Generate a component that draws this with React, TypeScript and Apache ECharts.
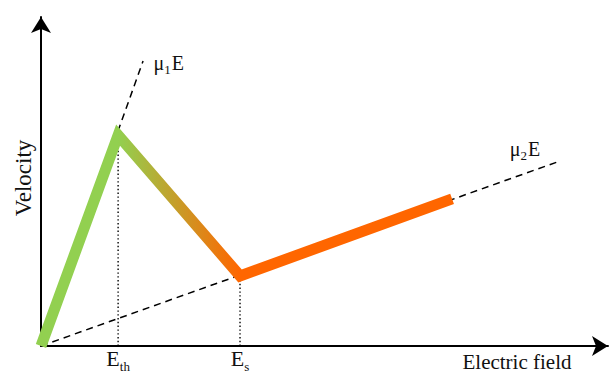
import React, { useEffect, useRef } from "react";
import * as echarts from "echarts";

// Data (axis units: 0..100 on both axes)
const fieldE = [0, 13.6, 35.1, 72.5];
const velocity = [0, 64.1, 21.3, 44.7];
const eThIndex = 1;
const eSIndex = 2;
const mu1LineE = [0, 18.0];
const mu1LineV = [0, 86.6];
const mu2LineE = [0, 91.0];
const mu2LineV = [0, 55.9];
const xName = "Electric field";
const yName = "Velocity";

const GREEN = "#92D050";
const ORANGE = "#FF6600";
const FONT = "Liberation Serif";

const richMu = {
  b: { fontFamily: FONT, fontSize: 20, color: "#111", verticalAlign: "bottom", lineHeight: 20 },
  s: { fontFamily: FONT, fontSize: 13, color: "#111", verticalAlign: "bottom", lineHeight: 13, padding: [0, 1, -3, 0] },
};
const richE = {
  b: { fontFamily: FONT, fontSize: 22, color: "#111", verticalAlign: "bottom", lineHeight: 20 },
  s: { fontFamily: FONT, fontSize: 13, color: "#111", verticalAlign: "bottom", lineHeight: 12, padding: [0, 0, -3, 0] },
};

export default function App() {
  const ref = useRef<HTMLDivElement>(null);
  useEffect(() => {
    if (!ref.current) return;
    const chart = echarts.init(ref.current, undefined, { renderer: "svg" });
    const eEnd = fieldE[fieldE.length - 1];
    const stop1 = fieldE[eThIndex] / eEnd;
    const stop2 = fieldE[eSIndex] / eEnd;
    const dotted = (e: number, v: number, label: string) => ({
      type: "line",
      data: [
        {
          value: [e, 0],
          label: { show: true, position: "bottom", distance: 3, formatter: label, rich: richE },
        },
        [e, v],
      ],
      symbol: "circle",
      symbolSize: 1,
      showSymbol: true,
      itemStyle: { color: "rgba(0,0,0,0)" },
      lineStyle: { color: "#000", width: 1.4, type: [1.4, 2.4] },
      silent: true,
    });
    const dashed = (xs: number[], ys: number[], label: string, labelOpts: any) => ({
      type: "line",
      data: [
        [xs[0], ys[0]],
        { value: [xs[1], ys[1]], label: { show: true, formatter: label, rich: richMu, ...labelOpts } },
      ],
      symbol: "circle",
      symbolSize: 1,
      showSymbol: true,
      itemStyle: { color: "rgba(0,0,0,0)" },
      lineStyle: { color: "#000", width: 1.5, type: [7, 5] },
      silent: true,
    });
    chart.setOption({
      animation: false,
      grid: { left: 41, right: 1, top: 17, bottom: 30 },
      xAxis: {
        type: "value",
        min: 0,
        max: 100,
        axisLine: {
          show: true,
          lineStyle: { color: "#000", width: 2 },
          symbol: ["none", "arrow"],
          symbolSize: [15, 16],
        },
        axisTick: { show: false },
        axisLabel: { show: false },
        splitLine: { show: false },
      },
      yAxis: {
        type: "value",
        min: 0,
        max: 100,
        axisLine: {
          show: true,
          lineStyle: { color: "#000", width: 2 },
          symbol: ["none", "arrow"],
          symbolSize: [15, 16],
        },
        axisTick: { show: false },
        axisLabel: { show: false },
        splitLine: { show: false },
      },
      graphic: [
        {
          type: "text",
          x: 23,
          y: 178,
          rotation: Math.PI / 2,
          style: {
            text: yName,
            fontSize: 23,
            fontFamily: FONT,
            fill: "#111",
            align: "center",
            verticalAlign: "middle",
          },
        },
        {
          type: "text",
          x: 517,
          y: 362,
          style: {
            text: xName,
            fontSize: 21,
            fontFamily: FONT,
            fill: "#111",
            align: "center",
            verticalAlign: "middle",
          },
        },
      ],
      series: [
        dashed(mu1LineE, mu1LineV, "{b|μ}{s|1}{b|E}", { position: "right", distance: 10, offset: [0, 2] }),
        dashed(mu2LineE, mu2LineV, "{b|μ}{s|2}{b|E}", { position: "top", distance: 3, offset: [-32, 0] }),
        dotted(fieldE[eThIndex], velocity[eThIndex], "{b|E}{s|th}"),
        dotted(fieldE[eSIndex], velocity[eSIndex], "{b|E}{s|s}"),
        {
          type: "line",
          data: fieldE.map((e, i) => [e, velocity[i]]),
          symbol: "none",
          lineStyle: {
            width: 11,
            cap: "butt",
            join: "miter",
            color: new echarts.graphic.LinearGradient(0, 0, 1, 0, [
              { offset: 0, color: GREEN },
              { offset: stop1, color: GREEN },
              { offset: stop2, color: ORANGE },
              { offset: 1, color: ORANGE },
            ]),
          },
          silent: true,
        },
      ],
    });
    return () => chart.dispose();
  }, []);
  return (
    <div
      ref={ref}
      style={{ position: "fixed", left: 0, top: 0, width: 609, height: 376, background: "#fff" }}
    />
  );
}
